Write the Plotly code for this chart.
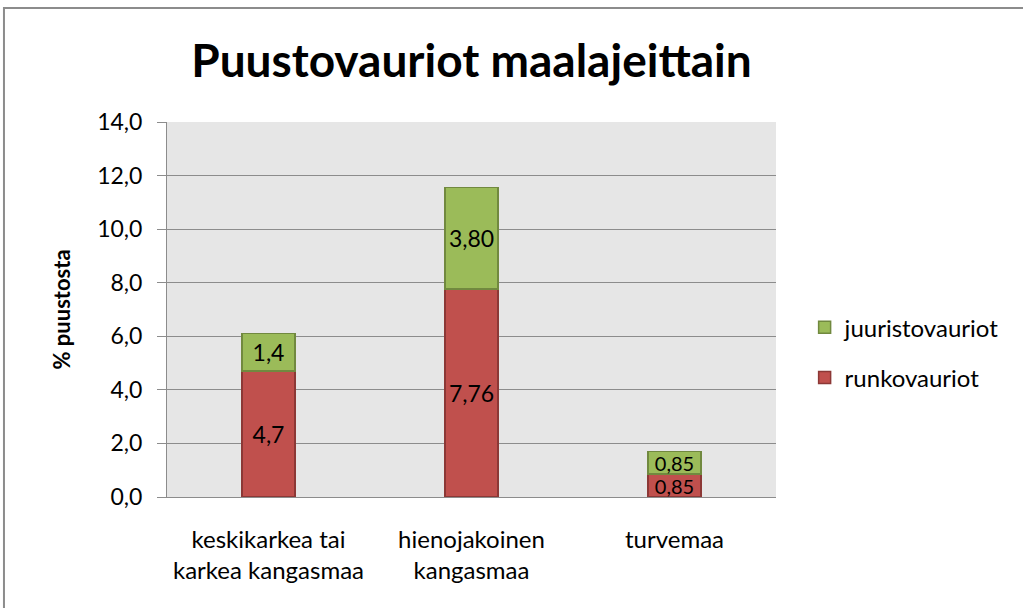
import plotly.graph_objects as go

maalajit = ["keskikarkea tai<br>karkea kangasmaa", "hienojakoinen<br>kangasmaa", "turvemaa"]
runkovauriot = [4.7, 7.76, 0.85]
runko_tekstit = ["4,7", "7,76", "0,85"]
juuristovauriot = [1.4, 3.80, 0.85]
juuri_tekstit = ["1,4", "3,80", "0,85"]

fontti = "Lato"
tekstikoot = [23, 23, 20]  # matala pylväs: pienempi teksti ettei mene päällekkäin

fig = go.Figure()
fig.add_trace(go.Bar(
    x=maalajit, y=runkovauriot, name="runkovauriot", legendgroup="r", legendrank=2,
    text=runko_tekstit, textposition="inside", insidetextanchor="middle",
    constraintext="none", textfont=dict(size=tekstikoot, color="black", family=fontti),
    marker=dict(color="#c0504d", line=dict(color="#8c3836", width=1.5)),
))
fig.add_trace(go.Bar(
    x=maalajit, y=juuristovauriot, name="juuristovauriot", legendgroup="j", legendrank=1,
    text=juuri_tekstit, textposition="inside", insidetextanchor="middle",
    constraintext="none", textfont=dict(size=tekstikoot, color="black", family=fontti),
    marker=dict(color="#9bbb59", line=dict(color="#71893f", width=1.5)),
))

fig.update_layout(
    width=1023, height=608,
    barmode="stack", bargap=0.74,
    separators=", ",
    paper_bgcolor="white", plot_bgcolor="#e6e6e6",
    font=dict(family=fontti, size=22, color="black"),
    margin=dict(l=167, r=247, t=122, b=111),
    title=dict(text="<b>Puustovauriot maalajeittain</b>", x=0.5, xref="paper",
               y=0.9, yanchor="middle", font=dict(size=46, family=fontti)),
    showlegend=True,
    legend=dict(x=1.047, xanchor="left", y=0.385, yanchor="middle",
                traceorder="grouped", tracegroupgap=16,
                font=dict(size=24), bgcolor="rgba(0,0,0,0)"),
    shapes=[dict(type="rect", xref="paper", yref="paper",
                 x0=-0.2677, x1=1.6, y0=-0.6, y1=1.304,
                 line=dict(color="#8c8c8c", width=2), fillcolor="rgba(0,0,0,0)")],
)
fig.update_yaxes(
    range=[0, 14], dtick=2, tickformat=".1f",
    showgrid=True, gridcolor="#8c8c8c", gridwidth=1,
    showline=True, linecolor="#8c8c8c", linewidth=1,
    ticks="outside", ticklen=9, tickcolor="#8c8c8c",
    tickfont=dict(size=23), ticklabelstandoff=10, zeroline=False,
    title=dict(text="<b>% puustosta</b>", font=dict(size=22), standoff=20),
)
fig.update_xaxes(
    showline=True, linecolor="#8c8c8c", linewidth=1,
    tickfont=dict(size=24), ticklabelstandoff=21,
)

fig.write_html("out.html", config={"displayModeBar": False},
               post_script="document.body.style.margin='0';")
